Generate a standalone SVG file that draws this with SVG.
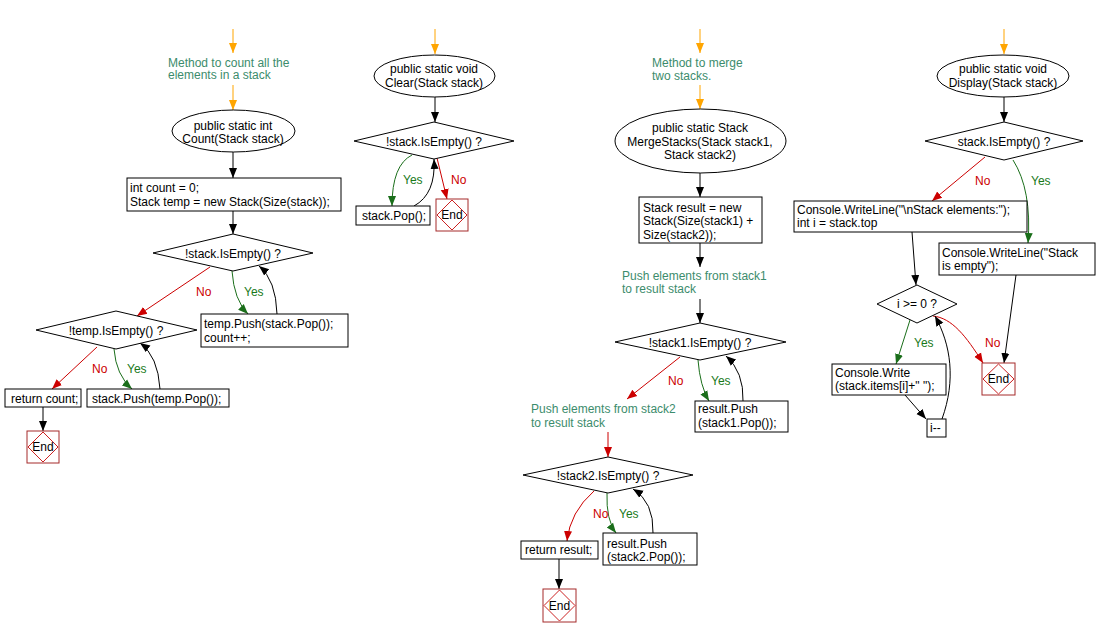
<svg xmlns="http://www.w3.org/2000/svg" width="1096" height="636" viewBox="0 0 1096 636">
<defs>
<style>
text{font-family:"Liberation Sans",Arial,sans-serif;font-size:12px;fill:#000}
.c{text-anchor:middle}
.cm{fill:#3c8c6c}
.no{fill:#cc0000}
.yes{fill:#1a7a1a}
.box{fill:#fff;stroke:#000;stroke-width:1}
.endr{fill:#fff;stroke:#a52a2a;stroke-width:1}
.endd{fill:none;stroke:#cc2222;stroke-width:1}
.k{fill:none;stroke:#000;stroke-width:1}
.r{fill:none;stroke:#cc0000;stroke-width:1}
.g{fill:none;stroke:#1a6e1a;stroke-width:1}
.o{fill:none;stroke:#ffa500;stroke-width:1}
</style>
<marker id="ak" markerUnits="userSpaceOnUse" markerWidth="10" markerHeight="10" refX="10" refY="5" orient="auto"><path d="M0,1 L10,5 L0,9 z" fill="#000"/></marker>
<marker id="ar" markerUnits="userSpaceOnUse" markerWidth="10" markerHeight="10" refX="10" refY="5" orient="auto"><path d="M0,1 L10,5 L0,9 z" fill="#cc0000"/></marker>
<marker id="ag" markerUnits="userSpaceOnUse" markerWidth="10" markerHeight="10" refX="10" refY="5" orient="auto"><path d="M0,1 L10,5 L0,9 z" fill="#1a6e1a"/></marker>
<marker id="ao" markerUnits="userSpaceOnUse" markerWidth="10" markerHeight="10" refX="10" refY="5" orient="auto"><path d="M0,1 L10,5 L0,9 z" fill="#ffa500"/></marker>
</defs>
<rect width="1096" height="636" fill="#fff"/>

<g id="connectors">
<!-- column 1 -->
<path class="o" d="M233,29 L233,53" marker-end="url(#ao)"/>
<path class="o" d="M233,85 L233,110" marker-end="url(#ao)"/>
<path class="k" d="M233,152 L233,178" marker-end="url(#ak)"/>
<path class="k" d="M233,211 L233,234" marker-end="url(#ak)"/>
<path class="r" d="M210,267 L137,316" marker-end="url(#ar)"/>
<path class="g" d="M232,271 Q234,300 248,314" marker-end="url(#ag)"/>
<path class="k" d="M277,314 Q276,280 259,266" marker-end="url(#ak)"/>
<path class="r" d="M97,347 L52,389" marker-end="url(#ar)"/>
<path class="g" d="M114,349 Q116,375 132,389" marker-end="url(#ag)"/>
<path class="k" d="M160,389 Q158,356 140,343" marker-end="url(#ak)"/>
<path class="k" d="M43,407 L43,431" marker-end="url(#ak)"/>
<!-- column 2 -->
<path class="o" d="M435,29 L435,54" marker-end="url(#ao)"/>
<path class="k" d="M435,97 L435,122" marker-end="url(#ak)"/>
<path class="g" d="M412,155 Q392,165 392,206" marker-end="url(#ag)"/>
<path class="k" d="M414,206 Q436,194 434,159" marker-end="url(#ak)"/>
<path class="r" d="M437,158 L447,199" marker-end="url(#ar)"/>
<!-- column 3 -->
<path class="o" d="M700,29 L700,53" marker-end="url(#ao)"/>
<path class="o" d="M700,85 L700,109" marker-end="url(#ao)"/>
<path class="k" d="M700,173 L700,197" marker-end="url(#ak)"/>
<path class="k" d="M700,243 L700,267" marker-end="url(#ak)"/>
<path class="k" d="M700,299 L700,323" marker-end="url(#ak)"/>
<path class="r" d="M680,357 L627,399" marker-end="url(#ar)"/>
<path class="g" d="M698,360 Q700,386 709,401" marker-end="url(#ag)"/>
<path class="k" d="M743,401 Q744,372 726,356" marker-end="url(#ak)"/>
<path class="r" d="M608,432 L608,457" marker-end="url(#ar)"/>
<path class="r" d="M594,491 Q570,512 567,541" marker-end="url(#ar)"/>
<path class="g" d="M607,493 Q606,520 616,533" marker-end="url(#ag)"/>
<path class="k" d="M653,533 Q654,502 633,489" marker-end="url(#ak)"/>
<path class="k" d="M559,559 L559,589" marker-end="url(#ak)"/>
<!-- column 4 -->
<path class="o" d="M1004,29 L1004,54" marker-end="url(#ao)"/>
<path class="k" d="M1004,97 L1004,122" marker-end="url(#ak)"/>
<path class="r" d="M985,157 L932,201" marker-end="url(#ar)"/>
<path class="g" d="M1013,160 Q1032,190 1028,243" marker-end="url(#ag)"/>
<path class="k" d="M912,232 L916,285" marker-end="url(#ak)"/>
<path class="g" d="M910,320 L896,364" marker-end="url(#ag)"/>
<path class="r" d="M933,316 C952,318 966,336 983,363" marker-end="url(#ar)"/>
<path class="k" d="M1016,275 L1004,363" marker-end="url(#ak)"/>
<path class="k" d="M905,395 L926,419" marker-end="url(#ak)"/>
<path class="k" d="M942,419 C956,380 951,345 935,316" marker-end="url(#ak)"/>
<!-- branch labels -->
<text class="no" x="196" y="296">No</text>
<text class="yes" x="244" y="296">Yes</text>
<text class="no" x="92" y="373">No</text>
<text class="yes" x="127" y="373">Yes</text>
<text class="yes" x="403" y="184">Yes</text>
<text class="no" x="451" y="184">No</text>
<text class="no" x="668" y="385">No</text>
<text class="yes" x="711" y="385">Yes</text>
<text class="no" x="593" y="518">No</text>
<text class="yes" x="619" y="518">Yes</text>
<text class="no" x="975" y="185">No</text>
<text class="yes" x="1031" y="185">Yes</text>
<text class="yes" x="914" y="347">Yes</text>
<text class="no" x="985" y="347">No</text>
</g>

<!-- column 1 nodes -->
<g id="c1-comment"><text class="cm" x="168" y="67">Method to count all the</text><text class="cm" x="168" y="79">elements in a stack</text></g>
<g id="c1-start"><ellipse class="box" cx="233.5" cy="131" rx="61.5" ry="21"/><text class="c" x="233" y="130">public static int</text><text class="c" x="233" y="143">Count(Stack stack)</text></g>
<g id="c1-init"><rect class="box" x="127" y="178" width="214" height="33"/><text x="130" y="192">int count = 0;</text><text x="130" y="206">Stack temp = new Stack(Size(stack));</text></g>
<g id="c1-d1"><polygon class="box" points="233,234 313,253 233,271 153,253"/><text class="c" x="233" y="258">!stack.IsEmpty() ?</text></g>
<g id="c1-push"><rect class="box" x="201" y="314" width="147" height="33"/><text x="204" y="328">temp.Push(stack.Pop());</text><text x="204" y="342">count++;</text></g>
<g id="c1-d2"><polygon class="box" points="116,311 197,330 116,349 36,330"/><text class="c" x="116" y="335">!temp.IsEmpty() ?</text></g>
<g id="c1-ret"><rect class="box" x="5" y="389" width="76" height="18"/><text x="11" y="403">return count;</text></g>
<g id="c1-push2"><rect class="box" x="87" y="389" width="142" height="18"/><text x="92" y="403">stack.Push(temp.Pop());</text></g>
<g id="c1-end"><rect class="endr" x="27" y="431" width="32" height="32"/><polygon class="endd" points="43,432 58,447 43,462 28,447"/><text class="c" x="43" y="451">End</text></g>

<!-- column 2 nodes -->
<g id="c2-start"><ellipse class="box" cx="434.5" cy="76" rx="60.5" ry="21"/><text class="c" x="434" y="73">public static void</text><text class="c" x="434" y="87">Clear(Stack stack)</text></g>
<g id="c2-d"><polygon class="box" points="434,122 514,141 434,159 354,141"/><text class="c" x="434" y="146">!stack.IsEmpty() ?</text></g>
<g id="c2-pop"><rect class="box" x="356" y="206" width="74" height="19"/><text x="362" y="220">stack.Pop();</text></g>
<g id="c2-end"><rect class="endr" x="436" y="199" width="32" height="32"/><polygon class="endd" points="452,200 467,215 452,230 437,215"/><text class="c" x="452" y="219">End</text></g>

<!-- column 3 nodes -->
<g id="c3-comment"><text class="cm" x="652" y="67">Method to merge</text><text class="cm" x="652" y="80">two stacks.</text></g>
<g id="c3-start"><ellipse class="box" cx="700.5" cy="141" rx="85.5" ry="32"/><text class="c" x="700" y="132">public static Stack</text><text class="c" x="700" y="146">MergeStacks(Stack stack1,</text><text class="c" x="700" y="159">Stack stack2)</text></g>
<g id="c3-init"><rect class="box" x="639" y="197" width="123" height="46"/><text x="643" y="212">Stack result = new</text><text x="643" y="225">Stack(Size(stack1) +</text><text x="643" y="239">Size(stack2));</text></g>
<g id="c3-comment2"><text class="cm" x="622" y="280">Push elements from stack1</text><text class="cm" x="622" y="293">to result stack</text></g>
<g id="c3-d1"><polygon class="box" points="700,323 786,342 700,360 615,342"/><text class="c" x="700" y="347">!stack1.IsEmpty() ?</text></g>
<g id="c3-push1"><rect class="box" x="695" y="401" width="93" height="31"/><text x="698" y="413">result.Push</text><text x="698" y="427">(stack1.Pop());</text></g>
<g id="c3-comment3"><text class="cm" x="531" y="413">Push elements from stack2</text><text class="cm" x="531" y="427">to result stack</text></g>
<g id="c3-d2"><polygon class="box" points="608,457 693,475 608,493 523,475"/><text class="c" x="608" y="480">!stack2.IsEmpty() ?</text></g>
<g id="c3-ret"><rect class="box" x="521" y="541" width="77" height="18"/><text x="525" y="554">return result;</text></g>
<g id="c3-push2"><rect class="box" x="603" y="533" width="94" height="32"/><text x="607" y="548">result.Push</text><text x="607" y="561">(stack2.Pop());</text></g>
<g id="c3-end"><rect class="endr" x="543" y="589" width="33" height="33"/><polygon class="endd" points="559.5,590 575,605.5 559.5,621 544,605.5"/><text class="c" x="559.5" y="610">End</text></g>

<!-- column 4 nodes -->
<g id="c4-start"><ellipse class="box" cx="1003" cy="76" rx="66" ry="21"/><text class="c" x="1003" y="73">public static void</text><text class="c" x="1003" y="87">Display(Stack stack)</text></g>
<g id="c4-d1"><polygon class="box" points="1004,122 1083,141 1004,160 925,141"/><text class="c" x="1004" y="146">stack.IsEmpty() ?</text></g>
<g id="c4-write"><rect class="box" x="794" y="201" width="233" height="31"/><text x="797" y="214">Console.WriteLine("\nStack elements:");</text><text x="797" y="227">int i = stack.top</text></g>
<g id="c4-empty"><rect class="box" x="939" y="243" width="156" height="32"/><text x="942" y="257">Console.WriteLine("Stack</text><text x="942" y="270">is empty");</text></g>
<g id="c4-d2"><polygon class="box" points="917,285 957,304 917,323 877,304"/><text class="c" x="917" y="308">i &gt;= 0 ?</text></g>
<g id="c4-item"><rect class="box" x="832" y="364" width="114" height="31"/><text x="835" y="377">Console.Write</text><text x="835" y="390">(stack.items[i]+" ");</text></g>
<g id="c4-dec"><rect class="box" x="927" y="419" width="19" height="18"/><text x="930" y="432">i--</text></g>
<g id="c4-end"><rect class="endr" x="982" y="363" width="33" height="32"/><polygon class="endd" points="998.5,364 1014,379 998.5,394 983,379"/><text class="c" x="998.5" y="383">End</text></g>
</svg>
